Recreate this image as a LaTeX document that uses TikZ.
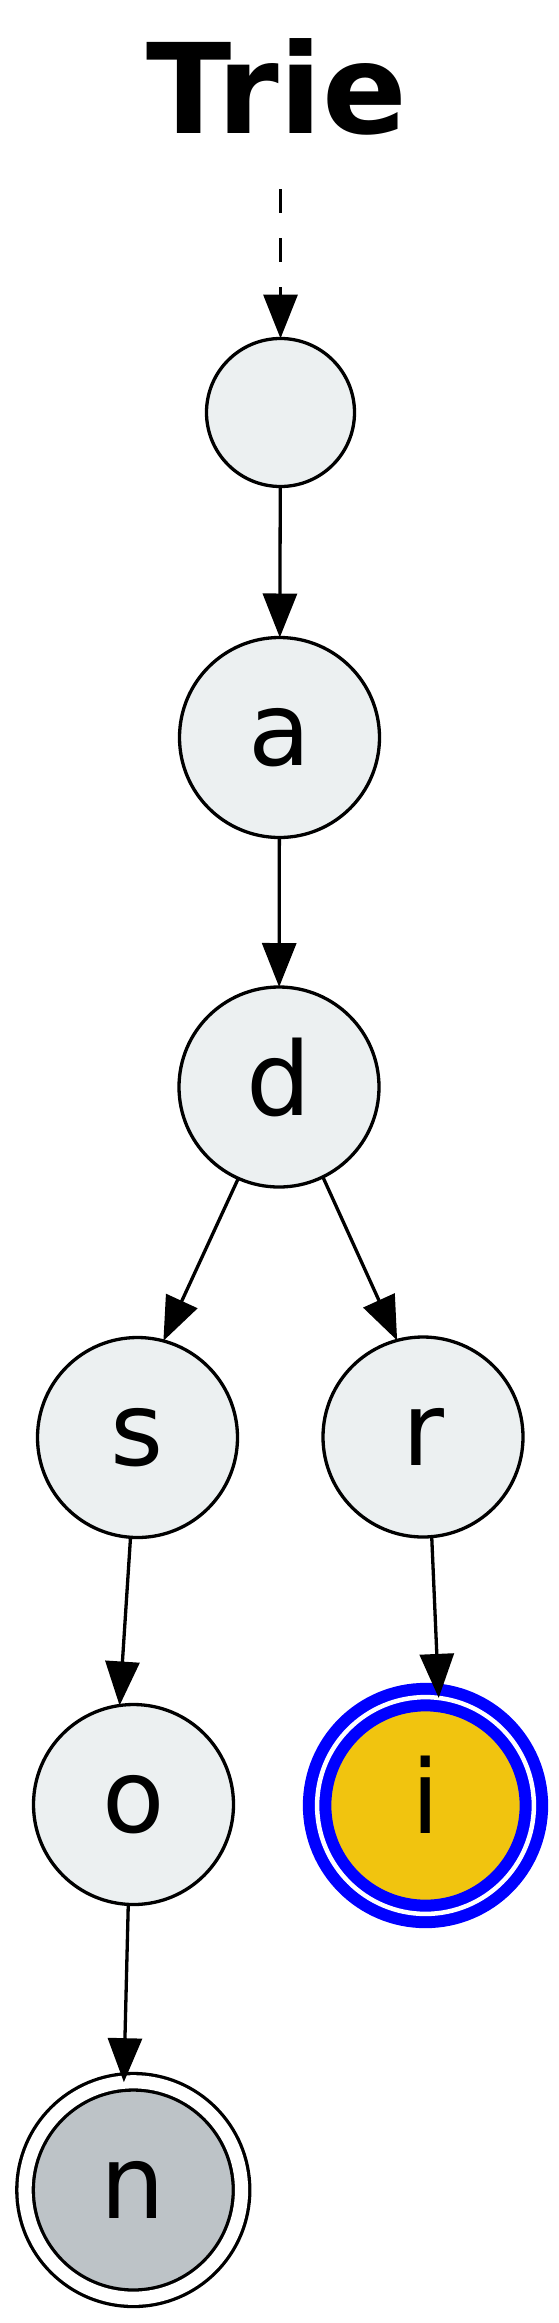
\documentclass[tikz,border=0pt]{standalone}
\usepackage{fontspec}
\setmainfont{DejaVu Sans}
\usetikzlibrary{arrows.meta}
\definecolor{clouds}{HTML}{ECF0F1}
\definecolor{silver}{HTML}{BDC3C7}
\definecolor{sunflower}{HTML}{F1C40F}

\begin{document}
\begin{tikzpicture}[x=1pt, y=-1pt, line width=3.3pt]
 \tikzstyle{tnode}=[circle, draw, fill=clouds, inner sep=0pt, outer sep=0pt, minimum size=200pt, font=\fontsize{102}{110}\selectfont, text height=56pt, text depth=0pt]
 \tikzstyle{fnode}=[tnode, fill=silver, double=white, double distance=13.2pt, minimum size=216.5pt]
 \tikzstyle{hnode}=[tnode, fill=sunflower, draw=blue, line width=12pt, double=white, double distance=4.5pt, minimum size=216.8pt]
 \tikzstyle{line}=[draw, -{Triangle[length=44pt, width=34pt]}]

 \useasboundingbox (0, 0) rectangle (559, 2323);

 \node[font=\fontsize{125}{130}\selectfont\bfseries, anchor=base] (title) at (276.5, 133) {Trie};
 \coordinate (entry) at (280.5, 189);

 \draw (280.5, 412.5) node[tnode, minimum size=148pt] (root) {};
 \draw (279.5, 737.5) node[tnode] (a) {a};
 \draw (279, 1087) node[tnode] (d) {d};
 \draw (137.5, 1437.5) node[tnode] (s) {s};
 \draw (423, 1437) node[tnode] (r) {r};
 \draw (133.5, 1804.5) node[tnode] (o) {o};
 \draw (425.5, 1805.5) node[hnode] (i) {i};
 \draw (133.3, 2190) node[fnode] (n) {n};

 \path [line, dash pattern=on 24pt off 25pt] (entry) -- (root);
 \path [line] (root) -- (a);
 \path [line] (a) -- (d);
 \path [line] (d.246) -- (s.75);
 \path [line] (d.296) -- (r.105);
 \path [line] (s.266) -- (o.98);
 \path [line] (r.275) -- (i.83);
 \path [line] (o.267) -- (n.95);
\end{tikzpicture}
\end{document}
